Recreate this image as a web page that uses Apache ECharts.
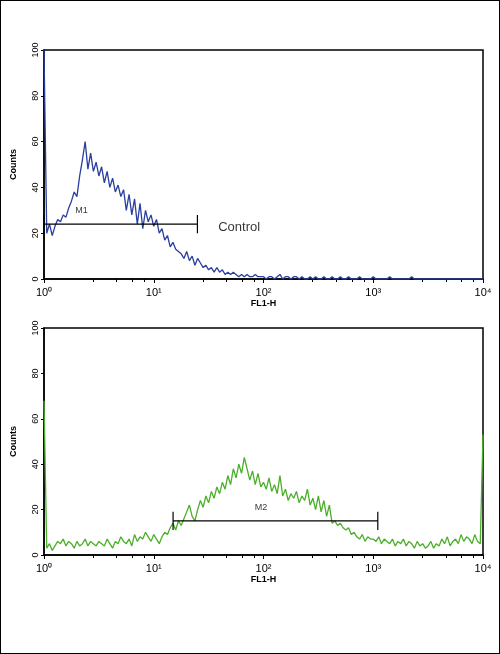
<!DOCTYPE html>
<html><head><meta charset="utf-8">
<script src="https://cdn.jsdelivr.net/npm/echarts@6/dist/echarts.min.js"></script>
<style>html,body{margin:0;padding:0;background:#fff}#c{width:498px;height:652px;border:1px solid #000}</style>
</head><body><div id="c"></div>
<script>
// channel step in decades between consecutive bins
const binStep = 0.025;
const controlCounts = [
100,20,24,19,23,26,25,28,27,31,
34,38,36,45,52,60,48,55,47,51,
45,49,42,47,40,44,38,41,36,39,
30,37,28,35,24,33,22,30,25,28,
23,26,20,22,17,19,14,16,13,12,
11,9,12,8,10,6,9,7,5,6,
4,5,3,5,3,4,2,3,2,3,
2,1,2,1,2,1,1,2,1,1,
1,0,1,1,0,1,2,0,1,1,
0,1,1,0,1,0,0,1,0,1,
0,0,1,0,0,1,0,0,1,0,
0,1,0,0,0,1,0,0,0,0,
1,0,0,0,0,0,1,0,0,0,
0,0,0,0,1,0,0,0,0,0,
0,0,0,0,0,0,0,0,0,0,
0,0,0,0,0,0,0,0,0,0,0];
const sampleCounts = [
68,3,5,2,4,6,5,7,4,6,
5,3,6,4,5,7,4,6,5,4,
6,5,4,7,5,3,6,5,8,6,
5,7,4,9,6,8,7,10,8,6,
9,7,5,8,10,9,12,14,11,15,
13,16,19,22,17,15,20,24,21,26,
23,28,25,30,27,32,29,35,31,38,
34,40,36,43,38,33,37,31,36,30,
32,29,34,28,31,27,35,26,29,24,
27,25,28,23,26,24,29,22,25,20,
26,19,24,17,22,14,15,13,14,12,
11,12,9,10,8,7,9,6,8,7,
7,6,8,5,7,6,5,7,4,6,
5,7,4,6,5,3,6,4,5,3,
4,6,3,5,4,7,5,8,4,6,
7,5,9,6,8,7,5,9,6,5,53];
const m1 = {from:1, to:25, y:24, label:'M1', labelX:2.2};
const m2 = {from:15, to:1100, y:15, label:'M2', labelX:95};
const xTicks = [1,10,100,1000,10000];
const yTicks = [0,20,40,60,80,100];

const toPts = arr => arr.map((v,i)=>[Math.pow(10,i*binStep), v]);
const sup = {0:'⁰',1:'¹',2:'²',3:'³',4:'⁴'};
function xAxis(gi){return {type:'log',logBase:10,min:1,max:10000,gridIndex:gi,
  axisLine:{lineStyle:{color:'#000',width:1.5}},axisTick:{show:true,length:4,inside:false,lineStyle:{color:'#000'}},
  minorTick:{show:true,length:3,lineStyle:{color:'#000'}},splitLine:{show:false},
  axisLabel:{color:'#000',fontSize:11,fontFamily:'Liberation Sans',formatter:v=>'10'+sup[Math.round(Math.log10(v))]},
  name:'FL1-H',nameLocation:'middle',nameGap:20,nameTextStyle:{fontSize:9,fontWeight:'bold',color:'#000',fontFamily:'Liberation Sans'}};}
function yAxis(gi){return {type:'value',min:0,max:100,interval:20,gridIndex:gi,
  axisLine:{show:true,lineStyle:{color:'#000',width:1.5}},axisTick:{show:true,length:3,lineStyle:{color:'#000'}},splitLine:{show:false},
  axisLabel:{color:'#000',fontSize:9,rotate:90,margin:4,fontFamily:'Liberation Sans'},
  name:'Counts',nameLocation:'middle',nameGap:26,nameTextStyle:{fontSize:9,fontWeight:'bold',color:'#000',fontFamily:'Liberation Sans'}};}
function gate(m,gi){return [
  {type:'line',xAxisIndex:gi,yAxisIndex:gi,data:[[m.from,m.y],[m.to,m.y]],symbol:'none',lineStyle:{color:'#000',width:1.2},z:5},
  {type:'line',xAxisIndex:gi,yAxisIndex:gi,data:[[m.from,m.y-4],[m.from,m.y+4]],symbol:'none',lineStyle:{color:'#000',width:1.2},z:5},
  {type:'line',xAxisIndex:gi,yAxisIndex:gi,data:[[m.to,m.y-4],[m.to,m.y+4]],symbol:'none',lineStyle:{color:'#000',width:1.2},z:5},
  {type:'scatter',xAxisIndex:gi,yAxisIndex:gi,data:[[m.labelX,m.y+6]],symbolSize:0,
   label:{show:true,formatter:m.label,color:'#000',fontSize:9,fontFamily:'Liberation Sans'},z:6}];}
const chart = echarts.init(document.getElementById('c'));
chart.setOption({animation:false,
 grid:[{left:41,right:16,top:49,height:229,show:true,borderColor:'#000',borderWidth:1.5},
       {left:41,right:16,top:327,height:227,show:true,borderColor:'#000',borderWidth:1.5}],
 xAxis:[xAxis(0),xAxis(1)], yAxis:[yAxis(0),yAxis(1)],
 series:[
  {type:'line',data:toPts(controlCounts),symbol:'none',lineStyle:{color:'#2b3f9e',width:1.3}},
  {type:'line',xAxisIndex:1,yAxisIndex:1,data:toPts(sampleCounts),symbol:'none',lineStyle:{color:'#4caf2a',width:1.3}},
  ...gate(m1,0),
  {type:'scatter',data:[[60,22.5]],symbolSize:0,label:{show:true,formatter:'Control',color:'#000',fontSize:13,fontFamily:'Liberation Sans'}},
  ...gate(m2,1)
 ]});
</script></body></html>
